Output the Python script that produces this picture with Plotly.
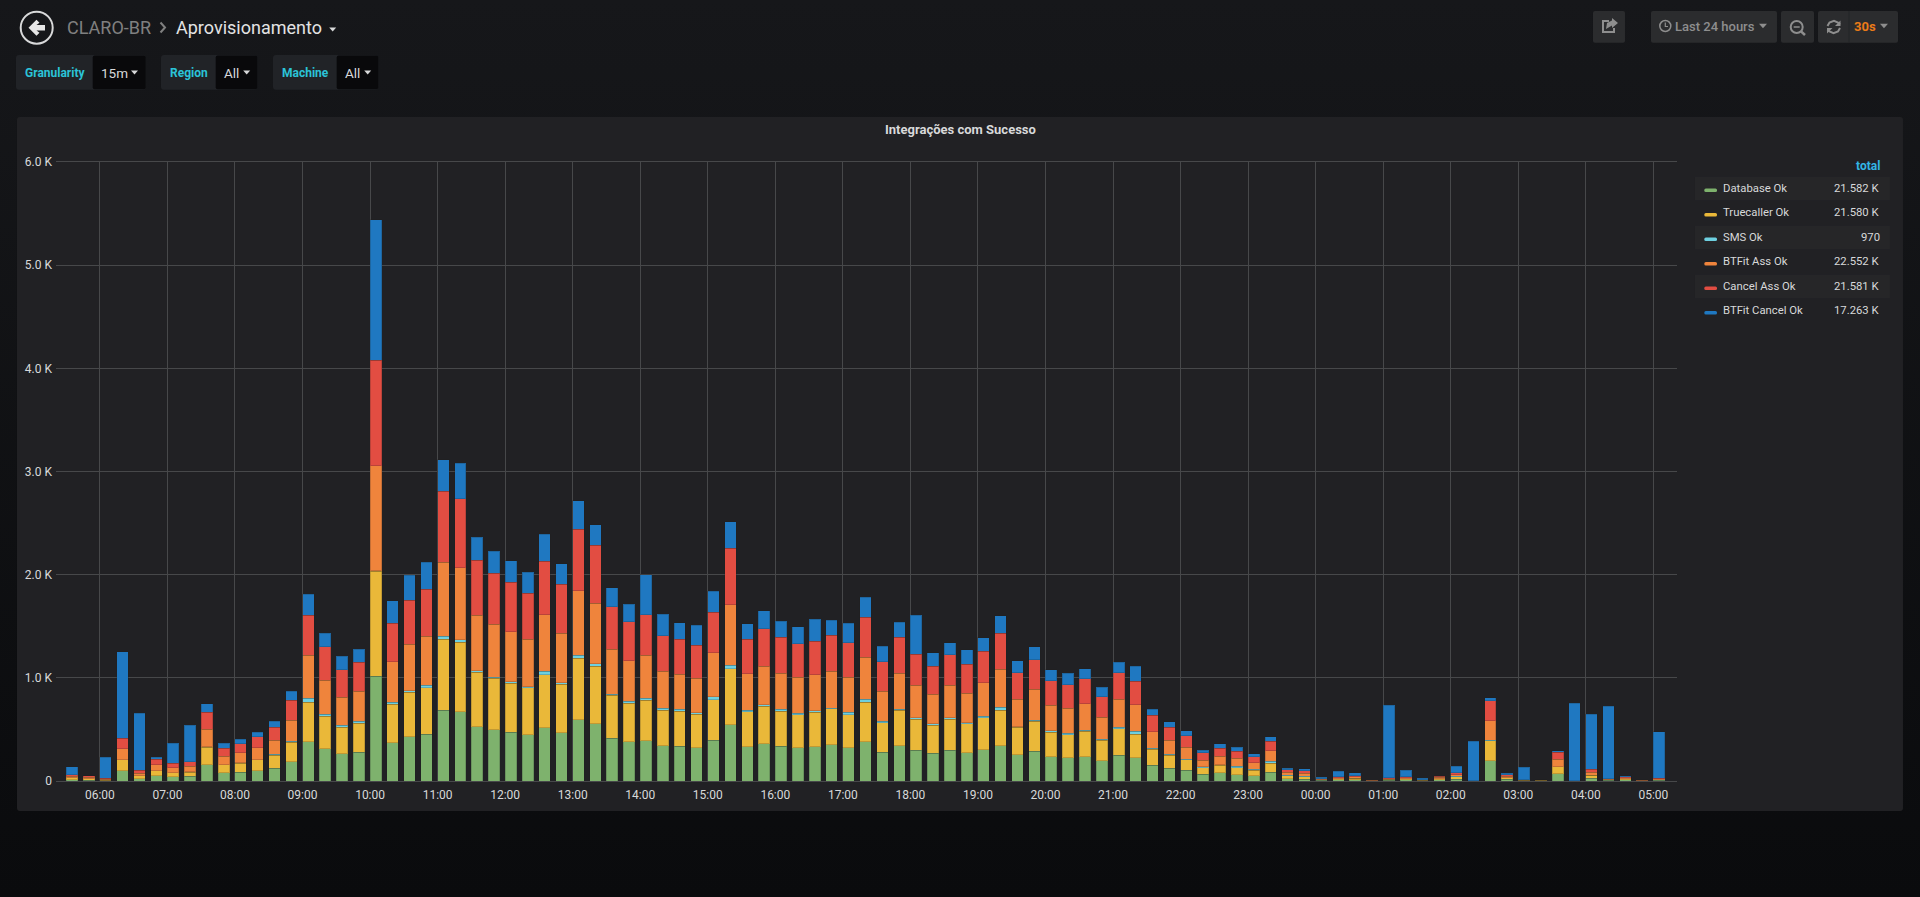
import pandas as pd
import plotly.graph_objects as go

# 15 minute buckets, 05:30 up to 05:00 the next day
times = pd.date_range("2018-06-01 05:30", periods=95, freq="15min")

database_ok = [
    10, 8, 2, 97, 23, 52, 42, 45, 158, 78, 87, 100, 123, 187, 381, 313, 265, 281,
    1014, 370, 429, 455, 685, 670, 525, 496, 474, 448, 514, 466, 592, 555, 414, 381, 389, 340, 339,
    323, 394, 543, 333, 362, 339, 320, 333, 349, 323, 381, 281, 342, 300, 271, 297, 275, 304, 342,
    255, 287, 233, 223, 236, 194, 252, 223, 152, 123, 103, 65, 78, 61, 52, 87, 23, 16, 6,
    10, 13, 2, 8, 10, 3, 10, 19, 1, 194, 16, 3, 3, 68, 1, 26, 6, 10, 2, 7,
]
truecaller_ok = [
    20, 15, 5, 107, 26, 45, 36, 42, 171, 78, 87, 107, 129, 190, 384, 317, 258, 281,
    1021, 374, 433, 451, 688, 673, 529, 500, 474, 455, 518, 470, 596, 559, 418, 374, 396, 348, 339,
    326, 394, 543, 339, 362, 339, 320, 333, 349, 320, 384, 284, 342, 300, 271, 304, 281, 307, 342,
    265, 291, 239, 226, 245, 203, 255, 229, 155, 126, 103, 65, 74, 68, 52, 87, 29, 23, 6,
    10, 13, 2, 8, 10, 3, 12, 23, 1, 194, 16, 3, 3, 68, 1, 32, 6, 10, 2, 7,
]
sms_ok = [
    0, 0, 0, 3, 0, 2, 1, 1, 3, 1, 1, 1, 5, 8, 35, 16, 16, 16,
    2, 18, 15, 22, 30, 26, 15, 11, 15, 11, 30, 15, 30, 22, 7, 18, 18, 18, 16,
    13, 29, 36, 16, 13, 16, 19, 13, 6, 23, 26, 13, 10, 13, 13, 10, 10, 16, 29,
    6, 10, 13, 16, 13, 10, 16, 29, 10, 10, 6, 6, 6, 13, 10, 16, 6, 6, 0,
    0, 0, 0, 0, 0, 0, 0, 3, 0, 6, 0, 0, 0, 0, 0, 0, 0, 0, 0, 0,
]
btfit_ass_ok = [
    15, 12, 8, 105, 28, 58, 48, 55, 171, 81, 97, 113, 136, 204, 420, 333, 275, 291,
    1021, 392, 448, 474, 718, 696, 536, 511, 485, 459, 551, 481, 625, 585, 437, 392, 414, 359, 342,
    333, 426, 588, 352, 375, 352, 346, 349, 359, 339, 410, 294, 352, 317, 287, 317, 287, 323, 371,
    265, 300, 249, 239, 255, 210, 268, 258, 161, 136, 113, 65, 81, 78, 65, 103, 26, 29, 6,
    10, 13, 2, 8, 10, 3, 12, 16, 1, 191, 13, 2, 3, 74, 0, 29, 6, 10, 2, 6,
]
cancel_ass_ok = [
    15, 15, 10, 103, 26, 55, 45, 45, 165, 78, 87, 107, 126, 194, 388, 320, 265, 284,
    1021, 377, 429, 455, 688, 673, 533, 496, 477, 448, 518, 474, 596, 562, 414, 381, 396, 344, 339,
    323, 394, 546, 336, 362, 346, 323, 329, 352, 333, 388, 284, 349, 297, 271, 294, 278, 307, 349,
    258, 287, 239, 229, 242, 200, 258, 226, 158, 126, 113, 71, 78, 68, 55, 90, 26, 26, 6,
    10, 13, 2, 8, 10, 3, 12, 19, 1, 194, 16, 2, 3, 68, 0, 29, 6, 10, 2, 6,
]
btfit_cancel_ok = [
    80, 2, 205, 837, 552, 20, 194, 352, 81, 48, 45, 45, 58, 87, 203, 132, 129, 126,
    1362, 215, 240, 263, 303, 340, 226, 211, 211, 204, 263, 200, 278, 200, 185, 167, 385, 207, 158,
    191, 203, 255, 149, 174, 155, 165, 213, 145, 191, 194, 149, 145, 381, 129, 120, 142, 132, 168,
    116, 126, 107, 110, 97, 90, 100, 145, 61, 55, 48, 26, 42, 39, 29, 48, 16, 19, 13,
    55, 26, 0, 701, 65, 13, 6, 61, 380, 26, 16, 122, 1, 13, 750, 530, 701, 10, 5, 452,
]

names = ["Database Ok", "Truecaller Ok", "SMS Ok", "BTFit Ass Ok", "Cancel Ass Ok", "BTFit Cancel Ok"]
totals = ["21.582 K", "21.580 K", "970", "22.552 K", "21.581 K", "17.263 K"]
colors = ["#7EB26D", "#EAB839", "#6ED0E0", "#EF843C", "#E24D42", "#1F78C1"]
series = [database_ok, truecaller_ok, sms_ok, btfit_ass_ok, cancel_ass_ok, btfit_cancel_ok]

y_ticks = [0, 1000, 2000, 3000, 4000, 5000, 6000]
y_labels = ["0", "1.0 K", "2.0 K", "3.0 K", "4.0 K", "5.0 K", "6.0 K"]

W, H = 1920, 897
LEFT, RIGHT, TOP, BOTTOM = 56, 1677, 162, 781
FONT = "Roboto"
TEXT = "#d8d9da"
CYAN = "#2bc3d8"
ICON = "#8e8e8e"
BTN = "#2b2c2e"
GRID = "#47484a"

for s in series:
    assert len(s) == len(times)


# paper coordinates are relative to the plot area, everything below is in page pixels
def px(x):
    return (x - LEFT) / (RIGHT - LEFT)


def py(y):
    return (BOTTOM - y) / (BOTTOM - TOP)


def poly(points):
    return "M" + " L".join("%.5f,%.5f" % (px(x), py(y)) for x, y in points) + " Z"


def rounded(x0, y0, x1, y1, r=2):
    p = lambda x, y: "%.5f,%.5f" % (px(x), py(y))
    return ("M" + p(x0 + r, y0) + " L" + p(x1 - r, y0) + " Q" + p(x1, y0) + " " + p(x1, y0 + r)
            + " L" + p(x1, y1 - r) + " Q" + p(x1, y1) + " " + p(x1 - r, y1)
            + " L" + p(x0 + r, y1) + " Q" + p(x0, y1) + " " + p(x0, y1 - r)
            + " L" + p(x0, y0 + r) + " Q" + p(x0, y0) + " " + p(x0 + r, y0) + " Z")


shapes = []
notes = []


def box(x0, y0, x1, y1, fill, r=2):
    shapes.append(dict(type="path", xref="paper", yref="paper", path=rounded(x0, y0, x1, y1, r),
                       fillcolor=fill, line_width=0, layer="below"))


def solid(points, fill):
    shapes.append(dict(type="path", xref="paper", yref="paper", path=poly(points),
                       fillcolor=fill, line_width=0, layer="above"))


def stroke(points, color, width=2):
    path = "M" + " L".join("%.5f,%.5f" % (px(x), py(y)) for x, y in points)
    shapes.append(dict(type="path", xref="paper", yref="paper", path=path,
                       line=dict(color=color, width=width), layer="above"))


def ring(cx, cy, r, color, width=2):
    shapes.append(dict(type="circle", xref="paper", yref="paper", x0=px(cx - r), x1=px(cx + r),
                       y0=py(cy + r), y1=py(cy - r), line=dict(color=color, width=width),
                       layer="above"))


def caret(x, y, size, color):
    solid([(x - size, y - size * 0.55), (x + size, y - size * 0.55), (x, y + size * 0.55)], color)


def note(x, y, text, size=12, color=TEXT, anchor="left", weight=400):
    notes.append(dict(x=px(x), y=py(y), xref="paper", yref="paper", text=text, showarrow=False,
                      xanchor=anchor, yanchor="middle", borderpad=0, borderwidth=0,
                      font=dict(family=FONT, size=size, color=color, weight=weight)))


# panel
box(17, 117, 1903, 811, "#212124", 3)
note(960, 130, "Integrações com Sucesso", 13, TEXT, "center", 700)

# back button and breadcrumb
ring(36.7, 27.7, 16, "#d8d9da", 2)
solid([(28.5, 27.7), (36.5, 19.7), (39.5, 22.7), (36.5, 25), (45, 25), (45, 30.4), (36.5, 30.4),
       (39.5, 32.7), (36.5, 35.7)], "#e6e6e6")
note(67, 27, "CLARO-BR", 18, "#808080")
stroke([(160.5, 22.5), (165, 27.5), (160.5, 32.5)], "#808080", 2)
note(175.5, 27, "Aprovisionamento", 18, "#e3e3e3")
caret(332.7, 29.5, 3.5, "#d8d9da")

# template variables
for label, value, x0, xd, x1, xl, xv, xc in [
    ("Granularity", "15m", 16, 92.7, 145.7, 25, 101, 134.5),
    ("Region", "All", 161, 215.7, 257.3, 170, 224.3, 246.7),
    ("Machine", "All", 273, 336.7, 378.3, 282, 345, 367.7),
]:
    box(x0, 55, x1, 89.7, "#212327", 3)
    box(xd, 55.5, x1, 89.2, "#09090b", 2)
    note(xl, 72.5, label, 12, CYAN, "left", 700)
    note(xv, 73, value, 13.5, TEXT)
    caret(xc, 72.5, 3.5, TEXT)

# toolbar on the right
box(1593, 11, 1625, 42.7, BTN)
box(1651, 11, 1777, 42.7, BTN)
box(1781, 11, 1814, 42.7, BTN)
box(1818, 11, 1898, 42.7, BTN)
stroke([(1849, 11), (1849, 42.7)], "#232426", 1)

stroke([(1609, 21), (1603, 21), (1603, 32), (1614, 32), (1614, 28)], ICON, 2)
solid([(1612, 18), (1618, 23), (1612, 28), (1612, 25.5), (1606, 29), (1607, 23), (1612, 20.5)], ICON)

ring(1665.3, 26, 5.5, ICON, 1.5)
stroke([(1665.3, 22.5), (1665.3, 26.5), (1668, 26.5)], ICON, 1.2)
note(1675, 26.5, "Last 24 hours", 13, ICON, "left", 500)
caret(1763, 26, 4, ICON)

ring(1796.7, 27, 6, ICON, 2)
stroke([(1801, 31.3), (1805, 35)], ICON, 2.5)
stroke([(1793.7, 27), (1799.7, 27)], ICON, 1.5)

stroke([(1827.5, 26), (1829.5, 22.5), (1834, 20.8), (1838, 22.5), (1840, 24.5)], ICON, 2)
stroke([(1840, 28), (1838, 31.5), (1833.5, 33.2), (1829.5, 31.5), (1827.5, 29.5)], ICON, 2)
solid([(1840.5, 20.5), (1840.5, 26), (1835, 26)], ICON)
solid([(1827, 33.5), (1827, 28), (1832.5, 28)], ICON)
note(1853.5, 26.5, "30s", 13, "#eb7b18", "left", 700)
caret(1884, 26, 4, ICON)

# legend table
note(1880, 166, "total", 12, "#33b5e5", "right", 700)
row_h = 24.5
for i in range(len(names)):
    mid = 188.3 + i * row_h
    if i % 2 == 0:
        box(1695, mid - 11.5, 1890, mid + 12, "#262628", 0)
    box(1704.3, mid + 0.2, 1717, mid + 3.7, colors[i], 1.5)
    note(1723.3, mid, names[i], 11.3, TEXT)
    note(1880, mid, totals[i], 11.3, TEXT, "right")

fig = go.Figure()
for name, values, color in zip(names, series, colors):
    fig.add_trace(go.Bar(
        x=times, y=values, name=name, offset=0, width=612000,
        marker=dict(color=color, line=dict(color="rgba(30,30,32,0.2)", width=1)),
    ))

fig.update_layout(
    width=W, height=H, autosize=False,
    barmode="stack", showlegend=False,
    paper_bgcolor="rgba(0,0,0,0)", plot_bgcolor="rgba(0,0,0,0)",
    margin=dict(l=LEFT, r=W - RIGHT, t=TOP, b=H - BOTTOM, pad=0),
    font=dict(family=FONT, size=12, color=TEXT),
    shapes=shapes, annotations=notes,
    xaxis=dict(
        type="date", range=["2018-06-01 05:21", "2018-06-02 05:21"],
        tick0="2018-06-01 06:00", dtick=3600000, tickformat="%H:%M",
        showgrid=True, gridcolor=GRID, gridwidth=1, zeroline=False,
        showline=True, mirror=True, linecolor=GRID, linewidth=1,
        ticks="", ticklabelstandoff=3,
    ),
    yaxis=dict(
        range=[0, 6000], tickvals=y_ticks, ticktext=y_labels,
        showgrid=True, gridcolor=GRID, gridwidth=1, zeroline=False, showline=False,
        ticks="", ticklabelstandoff=3,
    ),
)

page = """
document.documentElement.style.height = '100%';
document.documentElement.style.overflow = 'hidden';
document.body.style.margin = '0';
document.body.style.height = '100%';
document.body.style.background = 'linear-gradient(#16171a, #0a0b0d)';
"""
fig.write_html("out.html", post_script=page, config=dict(displayModeBar=False))
